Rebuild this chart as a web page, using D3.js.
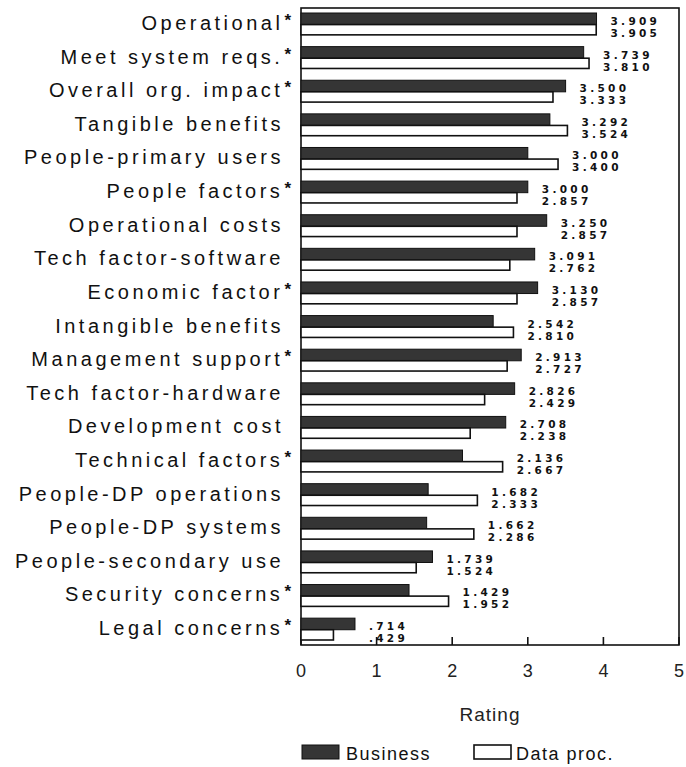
<!DOCTYPE html>
<html>
<head>
<meta charset="utf-8">
<script src="https://cdn.jsdelivr.net/npm/d3@7"></script>
<style>
  body { margin: 0; background: #fff; }
  svg { display: block; }
</style>
</head>
<body>
<svg id="chart" width="686" height="767"></svg>
<script>
// categories, top to bottom
const categories = [
  "Operational", "Meet system reqs.", "Overall org. impact", "Tangible benefits",
  "People-primary users", "People factors", "Operational costs", "Tech factor-software",
  "Economic factor", "Intangible benefits", "Management support", "Tech factor-hardware",
  "Development cost", "Technical factors", "People-DP operations", "People-DP systems",
  "People-secondary use", "Security concerns", "Legal concerns"
];
// asterisk after the label
const starred = [true, true, true, false, false, true, false, false, true, false,
  true, false, false, true, false, false, false, true, true];

const business = [3.909, 3.739, 3.500, 3.292, 3.000, 3.000, 3.250, 3.091, 3.130, 2.542,
  2.913, 2.826, 2.708, 2.136, 1.682, 1.662, 1.739, 1.429, 0.714];
const dataProc = [3.905, 3.810, 3.333, 3.524, 3.400, 2.857, 2.857, 2.762, 2.857, 2.810,
  2.727, 2.429, 2.238, 2.667, 2.333, 2.286, 1.524, 1.952, 0.429];

const xTicks = [0, 1, 2, 3, 4, 5];
const seriesNames = ["Business", "Data proc."];

const fmt = v => d3.format(".3f")(v).replace(/^0\./, ".");

const svg = d3.select("#chart");

// escalas
const x = d3.scaleLinear().domain([0, 5]).range([301, 679]);
const y = d3.scaleBand().domain(categories).range([13, 640]).paddingInner(0.35).paddingOuter(0);
const bh = y.bandwidth() * 0.53; // business bar a bit thicker

// marco del gráfico
const plotTop = 8, plotBottom = 645;
svg.append("rect")
  .attr("x", x(0)).attr("y", plotTop)
  .attr("width", x(5) - x(0)).attr("height", plotBottom - plotTop)
  .attr("fill", "none").attr("stroke", "#111").attr("stroke-width", 1.6);

// ticks hacia adentro
svg.append("g").selectAll("line")
  .data(xTicks).join("line")
  .attr("x1", d => x(d)).attr("x2", d => x(d))
  .attr("y1", plotBottom).attr("y2", plotBottom - 8)
  .attr("stroke", "#111").attr("stroke-width", 1.6);

svg.append("g").selectAll("text")
  .data(xTicks).join("text")
  .attr("x", d => x(d)).attr("y", 677)
  .attr("text-anchor", "middle")
  .attr("font-family", "Liberation Sans, Arial, sans-serif")
  .attr("font-size", 18).attr("fill", "#222")
  .text(d => d);

svg.append("text")
  .attr("x", (x(0) + x(5)) / 2).attr("y", 721)
  .attr("text-anchor", "middle")
  .attr("font-family", "Liberation Sans, Arial, sans-serif")
  .attr("font-size", 19).attr("letter-spacing", 1).attr("fill", "#222")
  .text("Rating");

// barras
const rows = categories.map((c, i) => ({ c, i, b: business[i], d: dataProc[i] }));

svg.append("g").selectAll("rect")
  .data(rows).join("rect")
  .attr("x", x(0)).attr("y", d => y(d.c))
  .attr("width", d => x(d.b) - x(0)).attr("height", bh)
  .attr("fill", "#353535").attr("stroke", "#111").attr("stroke-width", 1);

svg.append("g").selectAll("rect")
  .data(rows).join("rect")
  .attr("x", x(0)).attr("y", d => y(d.c) + bh)
  .attr("width", d => x(d.d) - x(0)).attr("height", y.bandwidth() - bh)
  .attr("fill", "#fff").attr("stroke", "#111").attr("stroke-width", 1.6);

// etiquetas de valores
const vals = svg.append("g")
  .attr("font-family", "DejaVu Sans, sans-serif")
  .attr("font-weight", "bold").attr("font-size", 10.5)
  .attr("letter-spacing", 3.3).attr("fill", "#111");

rows.forEach(r => {
  const lx = x(Math.max(r.b, r.d)) + 14;
  const cy = y(r.c) + y.bandwidth() / 2 + 3;
  vals.append("text").attr("x", lx).attr("y", cy - 2).text(fmt(r.b));
  vals.append("text").attr("x", lx).attr("y", cy + 10).text(fmt(r.d));
});

// etiquetas de categorías (el asterisco va como tspan)
const labels = svg.append("g")
  .attr("font-family", "Liberation Sans, Arial, sans-serif")
  .attr("font-size", 20).attr("fill", "#111");

rows.forEach(r => {
  const cy = y(r.c) + y.bandwidth() / 2 + 6;
  const t = labels.append("text")
    .attr("x", starred[r.i] ? 291 : 284).attr("y", cy)
    .attr("text-anchor", "end");
  t.append("tspan").attr("letter-spacing", 3.5).text(r.c);
  if (starred[r.i]) {
    t.append("tspan")
      .attr("dx", 1).attr("dy", -4)
      .attr("font-size", 17).attr("font-weight", "bold")
      .text("*");
  }
});

// leyenda
const legend = svg.append("g")
  .attr("font-family", "Liberation Sans, Arial, sans-serif")
  .attr("font-size", 18).attr("letter-spacing", 1.5).attr("fill", "#111");

legend.append("rect").attr("x", 302).attr("y", 745).attr("width", 37).attr("height", 14)
  .attr("fill", "#353535").attr("stroke", "#111");
legend.append("text").attr("x", 346).attr("y", 760).text(seriesNames[0]);
legend.append("rect").attr("x", 474).attr("y", 745).attr("width", 37).attr("height", 14)
  .attr("fill", "#fff").attr("stroke", "#111").attr("stroke-width", 1.6);
legend.append("text").attr("x", 516).attr("y", 760).text(seriesNames[1]);
</script>
</body>
</html>
